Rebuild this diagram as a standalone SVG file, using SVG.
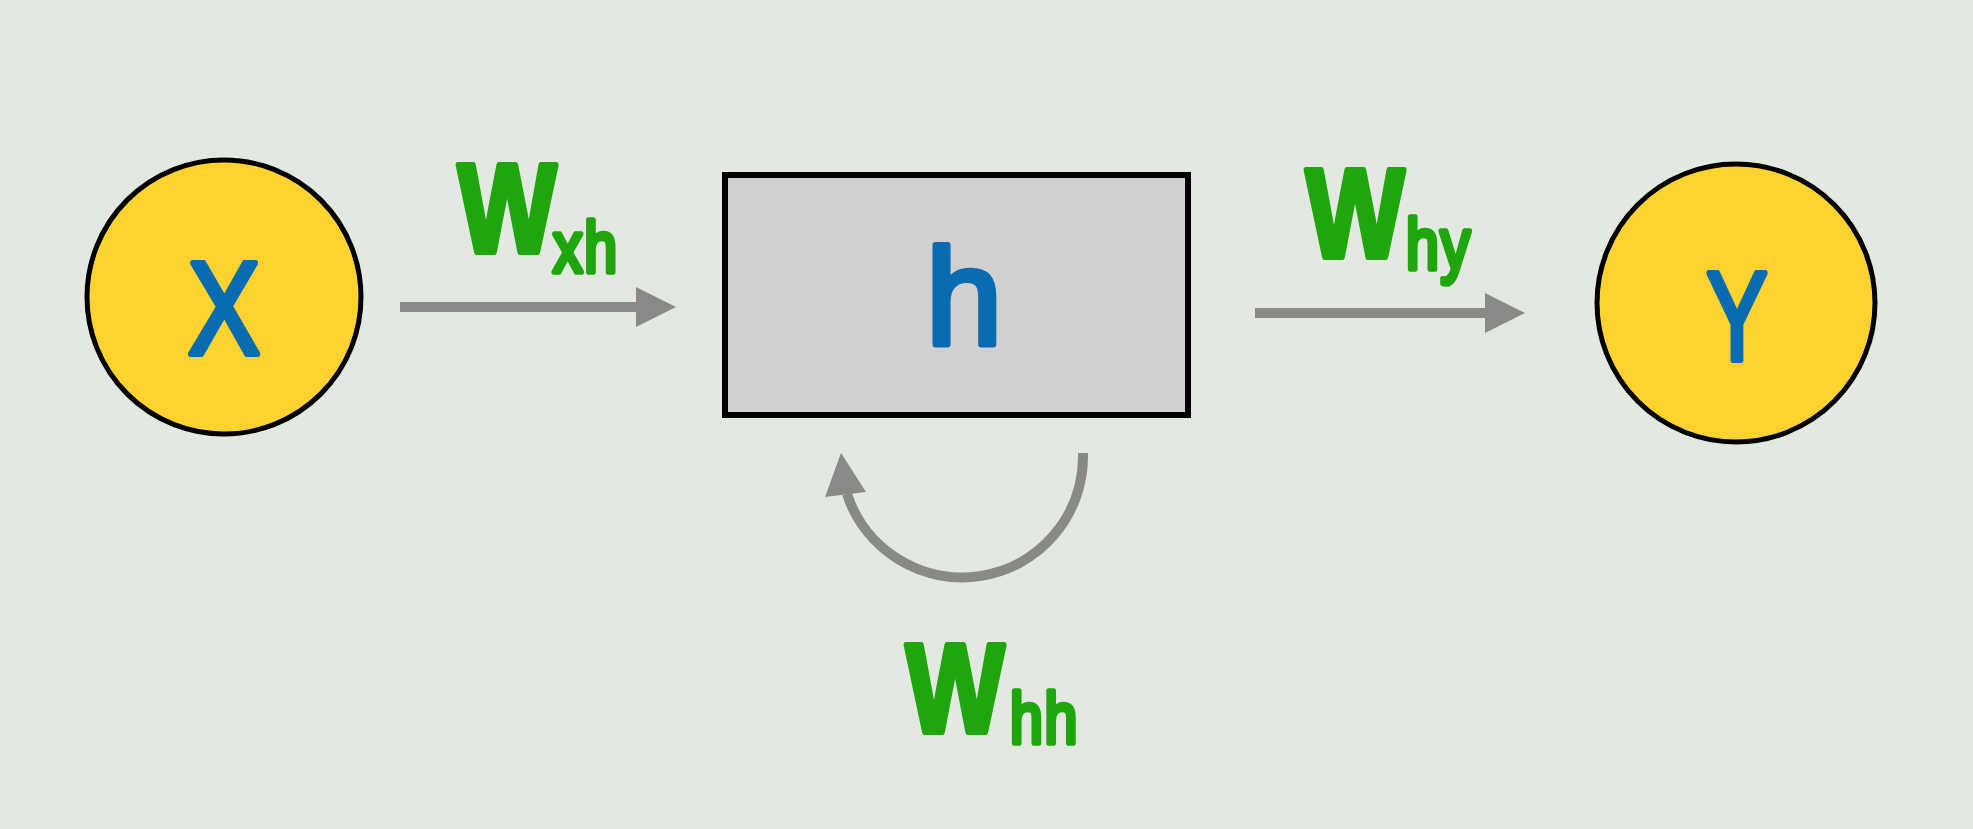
<svg xmlns="http://www.w3.org/2000/svg" width="1973" height="829" viewBox="0 0 1973 829">
<style>
.bg{fill:#e3e9e1}
.node-c{fill:#fed330;stroke:#000;stroke-width:5}
.node-r{fill:#d0d0d0;stroke:#000;stroke-width:6}
.lbl{font-family:"Liberation Sans",Arial,sans-serif;fill:#0a6cb0;stroke:#0a6cb0;stroke-width:6;stroke-linejoin:round;text-anchor:middle}
.w{font-family:"Liberation Sans",Arial,sans-serif;font-weight:bold;font-size:127px;fill:#1ea60c;stroke:#1ea60c;stroke-width:6;stroke-linejoin:round}
.sub{font-weight:normal;font-size:72px;stroke-width:5.5;letter-spacing:2px}
.conn{fill:none;stroke:#898a88;stroke-width:10}
.head{fill:#898a88}
</style>
<defs>
<marker id="ah" markerUnits="userSpaceOnUse" viewBox="0 0 40 40" markerWidth="40" markerHeight="40" refX="0" refY="20" orient="auto">
<path d="M0,0 L40,20 L0,40 z" fill="#898a88"/>
</marker>
</defs>
<rect class="bg" x="0" y="0" width="1973" height="829"/>
<g id="connectors">
<line class="conn" x1="400" y1="307" x2="636" y2="307" marker-end="url(#ah)"/>
<line class="conn" x1="1255" y1="313" x2="1485" y2="313" marker-end="url(#ah)"/>
<path class="conn" d="M1083,453 L1083,457 A121,121 0 0 1 847,494"/>
<polygon class="head" points="841,453 866,492 825,497"/>
</g>
<g id="node-x">
<circle class="node-c" cx="224" cy="297" r="137"/>
<text class="lbl" x="224" y="354" font-size="131" textLength="72" lengthAdjust="spacingAndGlyphs">X</text>
</g>
<g id="node-h">
<rect class="node-r" x="725" y="175" width="463" height="240"/>
<text class="lbl" x="964" y="345" font-size="137">h</text>
</g>
<g id="node-y">
<circle class="node-c" cx="1736" cy="303" r="139"/>
<text class="lbl" x="1737" y="360" font-size="126" textLength="61" lengthAdjust="spacingAndGlyphs">Y</text>
</g>
<g id="label-wxh">
<text class="w" transform="translate(458,252) scale(0.82,1)" x="0" y="0">W<tspan class="sub" dx="-4" dy="19.5">xh</tspan></text>
</g>
<g id="label-why">
<text class="w" transform="translate(1306,257) scale(0.82,1)" x="0" y="0">W<tspan class="sub" dx="2" dy="11.5">hy</tspan></text>
</g>
<g id="label-whh">
<text class="w" transform="translate(906,732) scale(0.82,1)" x="0" y="0">W<tspan class="sub" dx="7" dy="10.5">hh</tspan></text>
</g>
</svg>
